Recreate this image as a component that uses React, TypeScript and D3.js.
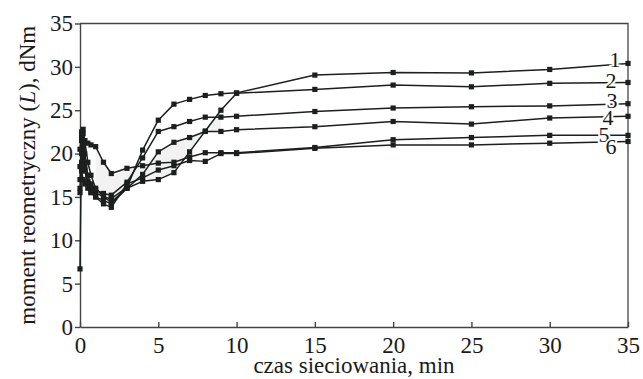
import * as d3 from "d3";
import { useRef, useEffect } from "react";

// czas sieciowania [min] — shared sampling for all six curves
const times = [0, 0.1, 0.2, 0.3, 0.5, 0.7, 1, 1.5, 2, 3, 4, 5, 6, 7, 8, 9, 10, 15, 20, 25, 30, 35];

// moment reometryczny [dNm]
const curve1 = [17.0, 21.5, 19.5, 18.0, 16.8, 16.0, 15.5, 15.0, 14.8, 16.1, 20.4, 23.85, 25.7, 26.25, 26.7, 26.9, 27.0, 29.05, 29.35, 29.3, 29.7, 30.4];
const curve2 = [6.7, 22.0, 22.8, 21.5, 19.0, 17.5, 16.0, 15.0, 14.4, 16.0, 16.8, 17.0, 17.8, 20.2, 22.6, 25.0, 26.95, 27.4, 27.9, 27.7, 28.1, 28.2];
const curve3 = [18.5, 20.0, 21.0, 20.0, 17.5, 16.5, 15.8, 15.4, 15.2, 16.7, 19.5, 22.55, 23.1, 23.7, 24.2, 24.2, 24.3, 24.85, 25.25, 25.4, 25.5, 25.75];
const curve4 = [16.0, 19.0, 20.5, 18.5, 16.5, 15.5, 15.0, 14.6, 14.2, 16.0, 17.6, 20.2, 21.3, 21.85, 22.55, 22.55, 22.75, 23.1, 23.7, 23.4, 24.1, 24.3];
const curve5 = [20.5, 22.5, 22.3, 21.5, 21.2, 21.0, 20.8, 19.0, 17.7, 18.3, 18.6, 18.9, 19.0, 19.6, 20.1, 20.1, 20.1, 20.7, 21.6, 21.85, 22.1, 22.1];
const curve6 = [15.5, 18.0, 17.0, 16.5, 16.0, 15.5, 15.0, 14.2, 13.8, 16.5, 17.2, 18.1, 18.6, 19.2, 19.1, 20.0, 20.0, 20.6, 21.0, 21.0, 21.2, 21.4];

const curveLabels = ["1", "2", "3", "4", "5", "6"];
const xTicks = [0, 5, 10, 15, 20, 25, 30, 35];
const yTicks = [0, 5, 10, 15, 20, 25, 30, 35];

export default function App() {
  const svgRef = useRef<SVGSVGElement | null>(null);
  const width = 643;
  const height = 379;

  useEffect(() => {
    const series = [curve1, curve2, curve3, curve4, curve5, curve6];
    const font = "'Liberation Serif', 'Times New Roman', serif";
    const ink = "#1b1f1e";

    const x = d3.scaleLinear().domain([0, 35]).range([80, 628]);
    const y = d3.scaleLinear().domain([0, 35]).range([327, 23.5]);

    const svg = d3.select(svgRef.current);
    svg.selectAll("*").remove();
    svg.attr("width", width).attr("height", height).attr("viewBox", [0, 0, width, height]);

    svg.append("rect").attr("width", width).attr("height", height).attr("fill", "white");

    // faint grey band between curves 2 and 4/5 (as in the scan)
    const bandIdx = times.map((t, i) => i).filter((i) => times[i] >= 1 && times[i] <= 9);
    svg.append("path")
      .attr("fill", "#f2f2f2")
      .attr("d", d3.area<number>()
        .x((i) => x(times[i]))
        .y0((i) => y(curve2[i]))
        .y1((i) => y(Math.max(curve4[i], curve5[i])))(bandIdx) as string);

    // frame (top + right)
    svg.append("path")
      .attr("d", `M${x(0)},${y(35)}H${x(35)}V${y(0)}`)
      .attr("fill", "none")
      .attr("stroke", "#444")
      .attr("stroke-width", 1.3);

    // x axis, ticks pointing inward
    svg.append("g")
      .attr("transform", `translate(0,${y(0)})`)
      .call(d3.axisBottom(x).tickValues(xTicks).tickSize(-5).tickPadding(15).tickSizeOuter(0))
      .call((g) => g.selectAll("line, path").attr("stroke", "#444").attr("stroke-width", 1.4))
      .call((g) => g.selectAll("text").attr("font-family", font).attr("font-size", 23).attr("fill", "#1a1a1a").attr("dy", "0.71em").attr("y", 10));

    // y axis
    svg.append("g")
      .attr("transform", `translate(${x(0)},0)`)
      .call(d3.axisLeft(y).tickValues(yTicks).tickSize(5).tickPadding(2).tickSizeOuter(0))
      .call((g) => g.selectAll("line, path").attr("stroke", "#444").attr("stroke-width", 1.4))
      .call((g) => g.selectAll("text").attr("font-family", font).attr("font-size", 23).attr("fill", "#1a1a1a"));

    // curves
    const line = d3.line<number>()
      .x((_, i) => x(times[i]))
      .y((d) => y(d));

    const gCurves = svg.append("g");
    series.forEach((vals) => {
      gCurves.append("path")
        .attr("d", line(vals) as string)
        .attr("fill", "none")
        .attr("stroke", ink)
        .attr("stroke-width", 1.5)
        .attr("stroke-linejoin", "round");
      gCurves.append("g")
        .selectAll("rect")
        .data(vals)
        .join("rect")
        .attr("x", (_, i) => x(times[i]) - 2.6)
        .attr("y", (d) => y(d) - 2.6)
        .attr("width", 5.2)
        .attr("height", 5.2)
        .attr("fill", ink);
    });

    // curve numbers at the right end
    const labelDx = [-13, -17, -16, -20, -24, -17];
    const labelDy = [-4, -2, -3, 1, -1, 5];
    svg.append("g")
      .selectAll("text")
      .data(curveLabels)
      .join("text")
      .attr("x", (_, i) => x(35) + labelDx[i])
      .attr("y", (_, i) => y(series[i][series[i].length - 1]) + labelDy[i])
      .attr("dy", "0.34em")
      .attr("text-anchor", "middle")
      .attr("font-family", font)
      .attr("font-size", 22)
      .attr("fill", "#1a1a1a")
      .attr("stroke", "white")
      .attr("stroke-width", 4)
      .attr("paint-order", "stroke")
      .text((d) => d);

    // axis titles
    svg.append("text")
      .attr("x", x(17.5))
      .attr("y", 373)
      .attr("text-anchor", "middle")
      .attr("font-family", font)
      .attr("font-size", 23)
      .attr("fill", "#1a1a1a")
      .text("czas sieciowania, min");

    const yt = svg.append("text")
      .attr("transform", `translate(35,${(y(0) + y(35)) / 2}) rotate(-90)`)
      .attr("text-anchor", "middle")
      .attr("font-family", font)
      .attr("font-size", 23)
      .attr("fill", "#1a1a1a");
    yt.append("tspan").text("moment reometryczny (");
    yt.append("tspan").attr("font-style", "italic").text("L");
    yt.append("tspan").text("), dNm");
  }, []);

  return <svg ref={svgRef} style={{ position: "absolute", left: 0, top: 0 }}></svg>;
}
